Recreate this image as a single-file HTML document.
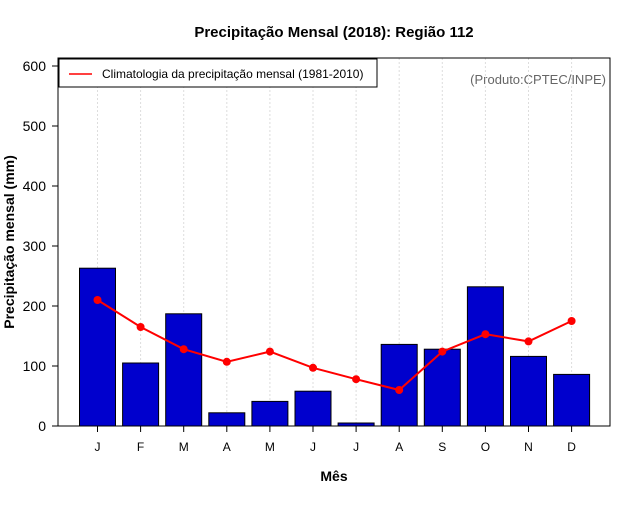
<!DOCTYPE html>
<html><head><meta charset="utf-8"><style>
body{margin:0;background:#fff;width:640px;height:500px;overflow:hidden}
svg text{font-family:"Liberation Sans",sans-serif}
</style></head><body>
<svg id="c" width="640" height="500">
<text x="334" y="37" font-size="15" font-weight="bold" text-anchor="middle">Precipitação Mensal (2018): Região 112</text>
<text x="334" y="481" font-size="14" font-weight="bold" text-anchor="middle">Mês</text>
<text transform="translate(14,242) rotate(-90)" font-size="14" font-weight="bold" text-anchor="middle">Precipitação mensal (mm)</text>
<text x="606" y="84" font-size="13" fill="#666" text-anchor="end">(Produto:CPTEC/INPE)</text>
<g id="grid"></g><g id="bars"></g><g id="line"></g><g id="axes"></g>
<rect x="58" y="58" width="552" height="368" fill="none" stroke="#000" stroke-width="1"/>
<g>
<rect x="59" y="59" width="318" height="28" fill="#fff" stroke="#000"/>
<line x1="69" y1="74" x2="92" y2="74" stroke="#f00" stroke-width="1.5"/>
<text x="102" y="78" font-size="12">Climatologia da precipitação mensal (1981-2010)</text>
</g>
</svg>
<script>
const months=["J","F","M","A","M","J","J","A","S","O","N","D"];
const precip=[263,105,187,22,41,58,5,136,128,232,116,86];
const clim=[210,165,128,107,124,97,78,60,124,153,141,175];
const yTicks=[0,100,200,300,400,500,600];
const NS="http://www.w3.org/2000/svg";
const y=v=>426-v*0.6;
const x=i=>97.5+i*43.1;
function mk(tag,attrs,parent){const e=document.createElementNS(NS,tag);for(const k in attrs)e.setAttribute(k,attrs[k]);document.getElementById(parent).appendChild(e);return e;}
months.forEach((m,i)=>{
 const g=mk("line",{x1:x(i),x2:x(i),y1:58,y2:426,stroke:"#ddd","stroke-dasharray":"2,2"},"grid");
 
 
 const b=mk("rect",{x:x(i)-18,y:y(precip[i]),width:36,height:precip[i]*0.6,fill:"#0000cd",stroke:"#000","stroke-width":1},"bars");
 
 
 const t=mk("line",{x1:x(i),x2:x(i),y1:426,y2:432,stroke:"#000"},"axes");
 
 
 const l=mk("text",{x:x(i),y:451,"font-size":12,"text-anchor":"middle"},"axes");
 l.textContent=m;
 
 
});
const p=mk("polyline",{points:clim.map((v,i)=>x(i)+","+y(v)).join(" "),fill:"none",stroke:"#f00","stroke-width":2},"line");


clim.forEach((v,i)=>{
 const c=mk("circle",{cx:x(i),cy:y(v),r:4,fill:"#f00"},"line");
 
 
});
yTicks.forEach(v=>{
 const t=mk("line",{x1:52,x2:58,y1:y(v),y2:y(v),stroke:"#000"},"axes");
 
 
 const l=mk("text",{x:46,y:y(v)+5,"font-size":14,"text-anchor":"end"},"axes");
 l.textContent=v;
 
 
});
</script>
</body></html>
